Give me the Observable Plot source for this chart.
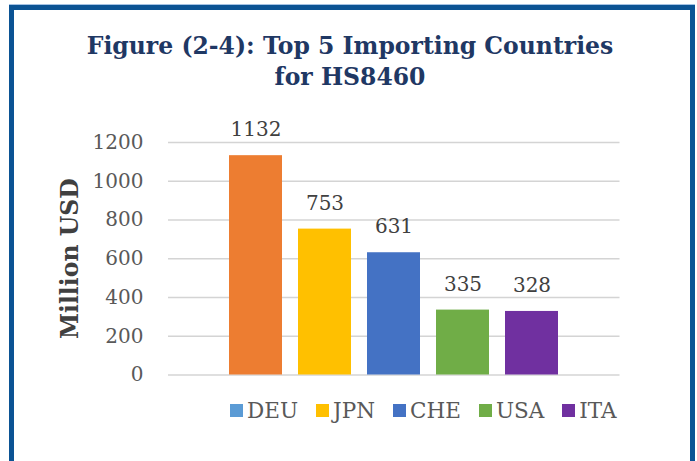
<!DOCTYPE html>
<html>
<head>
<meta charset="utf-8">
<script src="https://cdn.jsdelivr.net/npm/d3@7"></script>
<script src="https://cdn.jsdelivr.net/npm/@observablehq/plot@0.6"></script>
<style>
  html, body { margin: 0; padding: 0; background: #ffffff; }
  #wrap { position: relative; width: 697px; height: 461px; overflow: hidden; background: #fff; font-family: "DejaVu Serif", serif; }
  #frame { position: absolute; left: 9px; top: 5px; width: 686px; height: 480px; box-sizing: border-box;
           border: 5px solid #0B5394; box-shadow: 0 -1px 0 #a4c2e4; }
  #title { position: absolute; left: 0; width: 700px; top: 31px; text-align: center; color: #1F3864;
           font-family: "DejaVu Serif", serif; font-weight: bold; font-size: 23.5px; line-height: 31px; }
  #chart { position: absolute; left: 0; top: 0; }
  #legend { position: absolute; left: 230px; top: 394px; }
  #legend span { margin-right: 18px !important; }
  #legend span > svg { margin-right: 4px !important; }
</style>
</head>
<body>
<div id="wrap">
  <div id="frame"></div>
  <div id="title">Figure (2-4): Top 5 Importing Countries<br>for HS8460</div>
  <div id="chart"></div>
  <div id="legend"></div>
</div>
<script>
const countries = ["DEU", "JPN", "CHE", "USA", "ITA"];
const values = [1132, 753, 631, 335, 328];
const barColors = ["#ED7D31", "#FFC000", "#4472C4", "#70AD47", "#7030A0"];
const legendColors = ["#5B9BD5", "#FFC000", "#4472C4", "#70AD47", "#7030A0"];
const yTicks = [0, 200, 400, 600, 800, 1000, 1200];
const yLabel = "Million USD";

const data = countries.map((c, i) => ({country: c, value: values[i], color: barColors[i]}));

const chart = Plot.plot({
  width: 697,
  height: 400,
  marginTop: 142,
  marginBottom: 25.5,
  marginLeft: 168,
  marginRight: 77.5,
  style: { fontFamily: "DejaVu Serif, serif", background: "transparent", overflow: "visible" },
  x: { domain: countries, range: [211.65, 575.35], padding: 0.233, axis: null },
  y: { domain: [0, 1200], axis: null },
  marks: [
    Plot.ruleY(yTicks, { stroke: "#d4d4d4", strokeWidth: 1.4 }),
    Plot.barY(data, { x: "country", y: "value", fill: "color" }),
    Plot.text(data, { x: "country", y: "value", text: d => String(d.value), dy: -26, fontSize: 20, fill: "#404040" }),
    Plot.axisY(yTicks, { tickSize: 0, tickPadding: 25, fontSize: 20, fill: "#595959", label: null, tickFormat: d => String(d) }),
    Plot.text([yLabel], { frameAnchor: "left", textAnchor: "middle", dx: -98, rotate: -90, fontSize: 23.5, fontWeight: "bold", fill: "#404040", text: d => d })
  ]
});
document.getElementById("chart").appendChild(chart);

const legend = Plot.legend({
  color: { type: "categorical", domain: countries, range: legendColors },
  swatchSize: 13,
  style: { fontFamily: "DejaVu Serif, serif", fontSize: "21.5px", color: "#595959" }
});
document.getElementById("legend").appendChild(legend);
</script>
</body>
</html>
